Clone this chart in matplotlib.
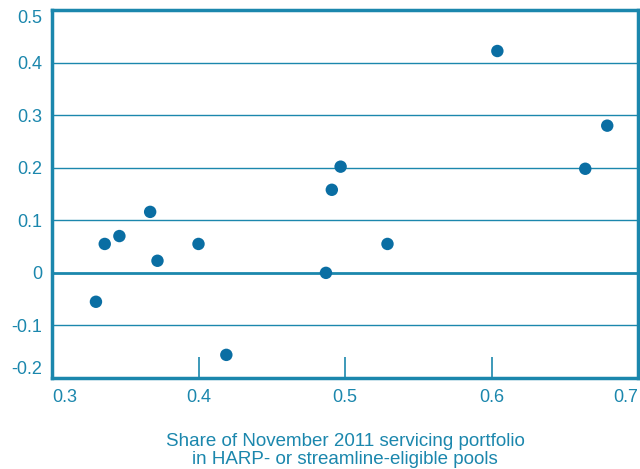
import numpy as np
import matplotlib.pyplot as plt

# share of servicing portfolio in eligible pools vs change
share = [0.330, 0.336, 0.346, 0.367, 0.372, 0.400, 0.419, 0.487, 0.491,
         0.497, 0.529, 0.604, 0.664, 0.679]
change = [-0.055, 0.055, 0.070, 0.116, 0.023, 0.055, -0.156, 0.0, 0.158,
          0.202, 0.055, 0.422, 0.198, 0.280]

xticks = [0.3, 0.4, 0.5, 0.6, 0.7]
yticks = [-0.2, -0.1, 0, 0.1, 0.2, 0.3, 0.4, 0.5]
xlabel = "Share of November 2011 servicing portfolio\nin HARP- or streamline-eligible pools"

line_col = "#1b87ad"
dot_col = "#0a6ea3"

plt.rcParams['font.family'] = ['Liberation Sans', 'DejaVu Sans']

fig = plt.figure(figsize=(6.4, 4.69), dpi=100)
ax = fig.add_axes([52/640, 1-378/469, 586/640, 368/469])

# horizontal gridlines
for y in [-0.1, 0.1, 0.2, 0.3, 0.4]:
    ax.axhline(y, color=line_col, lw=1.0, zorder=1)
ax.axhline(0, color=line_col, lw=2.0, zorder=1)

ax.scatter(share, change, s=80, color=dot_col, edgecolors='none', zorder=3)

ax.set_xlim(0.3, 0.7)
ax.set_ylim(-0.2, 0.5)

for s in ax.spines.values():
    s.set_color(line_col)
    s.set_linewidth(2.5)

ax.set_xticks(xticks)
ax.set_xticklabels([f"{v:g}" for v in xticks])
ax.set_yticks(yticks)
ax.set_yticklabels([f"{v:g}" for v in yticks])
ax.tick_params(axis='x', direction='in', length=15, width=1.2, color=line_col,
               labelcolor=line_col, labelsize=13, pad=8)
ax.tick_params(axis='y', length=0, labelcolor=line_col, labelsize=13, pad=7)
# end labels pulled inside the box
xt = ax.xaxis.get_major_ticks()
xt[0].tick1line.set_visible(False)
xt[-1].tick1line.set_visible(False)
xt[0].label1.set_horizontalalignment('left')
xt[-1].label1.set_horizontalalignment('right')
yt = ax.yaxis.get_major_ticks()
yt[0].label1.set_verticalalignment('bottom')
yt[-1].label1.set_verticalalignment('top')

ax.set_xlabel(xlabel, color=line_col, fontsize=13.5, labelpad=19, linespacing=1.1)

fig.savefig("out.png", dpi=100)
